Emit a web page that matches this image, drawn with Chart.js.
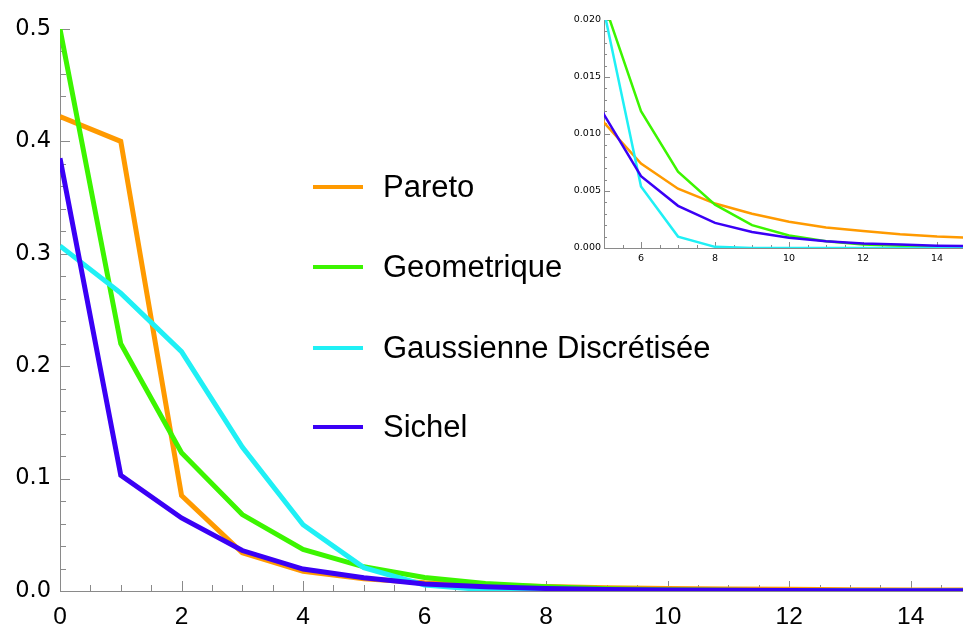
<!DOCTYPE html>
<html lang="fr">
<head>
<meta charset="utf-8">
<title>Distributions</title>
<script src="https://cdn.jsdelivr.net/npm/chart.js@4.4.1/dist/chart.umd.min.js"></script>
<style>
  html, body { margin: 0; padding: 0; background: #fff; }
  #wrap { position: relative; width: 963px; height: 626px; overflow: hidden; }
  #mainChart { position: absolute; left: 0; top: 0; }
  #insetChart { position: absolute; left: 520px; top: 0; }
  #legend { position: absolute; left: 0; top: 0; }
  .leg-item { position: absolute; left: 313px; height: 40px; display: flex; align-items: center;
              font-family: "Liberation Sans", Arial, sans-serif; font-size: 31px; color: #000; white-space: nowrap; }
  .leg-line { width: 50px; height: 4px; margin-right: 20px; }
</style>
</head>
<body>
<div id="wrap">
  <canvas id="mainChart" width="963" height="626"></canvas>
  <canvas id="insetChart" width="443" height="280"></canvas>
  <div id="legend"></div>
</div>
<script>
'use strict';

// ── données ────────────────────────────────────────────────────────────────
const K = [0, 1, 2, 3, 4, 5, 6, 7, 8, 9, 10, 11, 12, 13, 14, 15];

const PARETO      = [0.422, 0.400, 0.085, 0.034, 0.0175, 0.0110, 0.0074, 0.0052, 0.0039, 0.0030, 0.0023, 0.0018, 0.0015, 0.0012, 0.0010, 0.0009];
const GEOMETRIQUE = [0.500, 0.220, 0.123, 0.068, 0.037, 0.0215, 0.0120, 0.0067, 0.0038, 0.0020, 0.0011, 0.0006, 0.0003, 0.0002, 0.0001, 0.00005];
const GAUSSIENNE  = [0.307, 0.265, 0.213, 0.128, 0.059, 0.0208, 0.0054, 0.0010, 0.0001, 0, 0, 0, 0, 0, 0, 0];
const SICHEL      = [0.385, 0.103, 0.065, 0.036, 0.0195, 0.0117, 0.0063, 0.0037, 0.0022, 0.0014, 0.0009, 0.0006, 0.0004, 0.0003, 0.0002, 0.00015];

const LABELS = ['Pareto', 'Geometrique', 'Gaussienne Discrétisée', 'Sichel'];
const SERIES = [PARETO, GEOMETRIQUE, GAUSSIENNE, SICHEL];

const MAIN_X_TICKS  = [0, 2, 4, 6, 8, 10, 12, 14];
const MAIN_Y_TICKS  = [0.0, 0.1, 0.2, 0.3, 0.4, 0.5];
const INSET_X_TICKS = [6, 8, 10, 12, 14];
const INSET_Y_TICKS = [0.000, 0.005, 0.010, 0.015, 0.020];

// ── palette ────────────────────────────────────────────────────────────────
const COLORS    = ['#ff9a00', '#3cf500', '#1ff0f5', '#3a00f5'];
const AXIS_GRAY = '#8a8a8a';
const TICK_FONT = '"DejaVu Sans", sans-serif';

function points(values) {
    return values.map((v, i) => ({ x: K[i], y: v }));
}

function datasets(width) {
    return SERIES.map((s, i) => ({
        label: LABELS[i],
        data: points(s),
        borderColor: COLORS[i],
        backgroundColor: COLORS[i],
        borderWidth: width,
        pointRadius: 0,
        tension: 0,
        order: SERIES.length - i,   // Sichel au-dessus
    }));
}

// ── graduations vers l'intérieur (majeures + mineures) ─────────────────────
const innerTicks = {
    id: 'innerTicks',
    beforeDatasetsDraw(chart, args, opts) {
        const { ctx, chartArea: a, scales: { x, y } } = chart;
        ctx.save();
        ctx.strokeStyle = AXIS_GRAY;
        ctx.lineWidth = 1;
        ctx.beginPath();
        const eps = 1e-9;
        for (let v = opts.xMin; v <= x.max + eps; v += opts.xStep) {
            const px = Math.round(x.getPixelForValue(v)) + 0.5;
            const major = Math.abs(v / opts.xMajor - Math.round(v / opts.xMajor)) < 1e-6;
            const len = major ? opts.majorLen : opts.minorLen;
            ctx.moveTo(px, a.bottom);
            ctx.lineTo(px, a.bottom - len);
        }
        for (let v = y.min; v <= y.max + eps; v += opts.yStep) {
            const py = Math.round(y.getPixelForValue(v)) + 0.5;
            const major = Math.abs(v / opts.yMajor - Math.round(v / opts.yMajor)) < 1e-6;
            const len = major ? opts.majorLen : opts.minorLen;
            ctx.moveTo(a.left, py);
            ctx.lineTo(a.left + len, py);
        }
        ctx.stroke();
        ctx.restore();
    },
};

function axisOptions(cfg) {
    return {
        x: {
            type: 'linear',
            min: cfg.xMin,
            max: cfg.xMax,
            grid: { display: false, drawTicks: false },
            border: { display: true, color: AXIS_GRAY, width: 1 },
            afterBuildTicks: s => { s.ticks = cfg.xTicks.map(v => ({ value: v })); },
            afterFit: s => { s.height = cfg.xHeight; },
            ticks: {
                color: '#000',
                padding: cfg.xPad,
                maxRotation: 0,
                autoSkip: false,
                font: { family: cfg.xFont, size: cfg.xSize },
                callback: v => String(v),
            },
        },
        y: {
            type: 'linear',
            min: 0,
            max: cfg.yMax,
            grid: { display: false, drawTicks: false },
            border: { display: true, color: AXIS_GRAY, width: 1 },
            afterBuildTicks: s => { s.ticks = cfg.yTicks.map(v => ({ value: v })); },
            afterFit: s => { s.width = cfg.yWidth; },
            ticks: {
                color: '#000',
                padding: cfg.yPad,
                autoSkip: false,
                font: { family: TICK_FONT, size: cfg.ySize },
                callback: v => v.toFixed(cfg.yDigits),
            },
        },
    };
}

// ── graphique principal ────────────────────────────────────────────────────
new Chart(document.getElementById('mainChart'), {
    type: 'line',
    data: { datasets: datasets(5) },
    options: {
        responsive: false,
        animation: false,
        layout: { padding: { left: 0, top: 29, right: 0, bottom: 0 } },
        plugins: {
            legend: { display: false },
            tooltip: { enabled: false },
            innerTicks: { xMin: 0, xStep: 0.5, xMajor: 2, yStep: 0.02, yMajor: 0.1, majorLen: 10, minorLen: 6 },
        },
        scales: axisOptions({
            xMin: 0, xMax: 14.86, xTicks: MAIN_X_TICKS, xHeight: 35, xPad: 12,
            xFont: '"Liberation Sans", Arial, sans-serif', xSize: 24.5,
            yMax: 0.5, yTicks: MAIN_Y_TICKS, yWidth: 60, yPad: 9, ySize: 22.5, yDigits: 1,
        }),
    },
    plugins: [innerTicks],
});

// ── encart (zoom sur la queue) ─────────────────────────────────────────────
new Chart(document.getElementById('insetChart'), {
    type: 'line',
    data: { datasets: datasets(2.5) },
    options: {
        responsive: false,
        animation: false,
        layout: { padding: { left: 0, top: 20, right: 0, bottom: 0 } },
        plugins: {
            legend: { display: false },
            tooltip: { enabled: false },
            innerTicks: { xMin: 5, xStep: 0.5, xMajor: 2, yStep: 0.001, yMajor: 0.005, majorLen: 6, minorLen: 3 },
        },
        scales: axisOptions({
            xMin: 5, xMax: 14.7, xTicks: INSET_X_TICKS, xHeight: 32, xPad: 5,
            xFont: TICK_FONT, xSize: 9.5,
            yMax: 0.02, yTicks: INSET_Y_TICKS, yWidth: 84, yPad: 3, ySize: 9.5, yDigits: 3,
        }),
    },
    plugins: [innerTicks],
});

// ── légende ────────────────────────────────────────────────────────────────
const LEGEND_Y = [187, 267, 348, 427];
const legend = document.getElementById('legend');
LABELS.forEach((lab, i) => {
    const item = document.createElement('div');
    item.className = 'leg-item';
    item.style.top = (LEGEND_Y[i] - 20) + 'px';
    item.innerHTML = `<span class="leg-line" style="background:${COLORS[i]}"></span><span>${lab}</span>`;
    legend.appendChild(item);
});
</script>
</body>
</html>
